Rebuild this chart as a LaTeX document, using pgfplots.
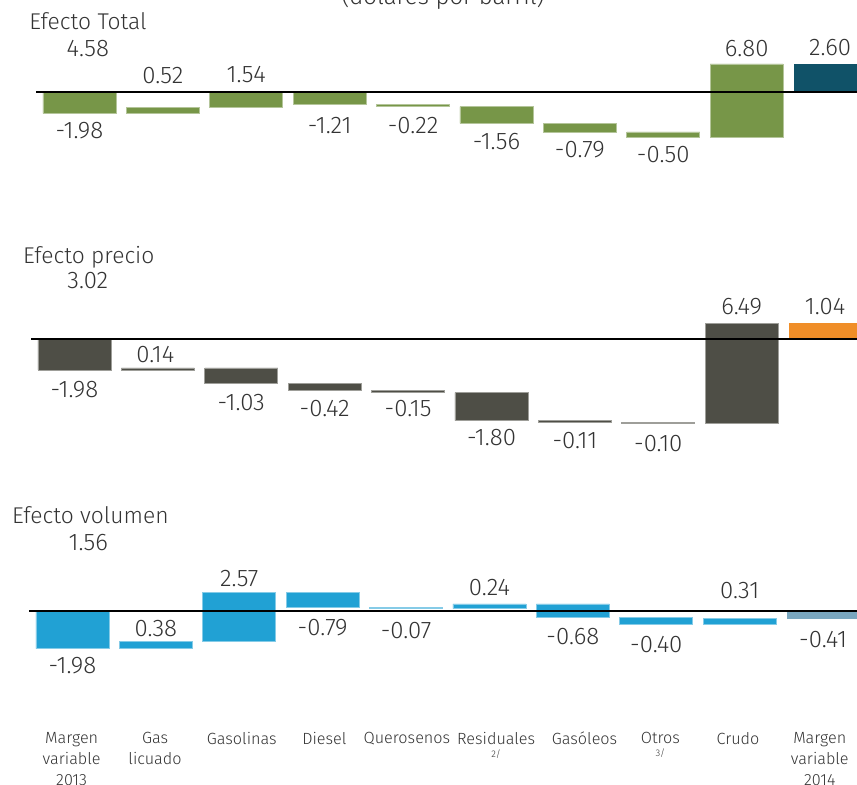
\documentclass[border=0pt]{standalone}
\usepackage{fontspec}
\setmainfont{Fira Sans Light}
\usepackage{pgfplots}
\pgfplotsset{compat=1.18}
\usepackage{pgfplotstable}

\definecolor{verde}{RGB}{119,150,72}
\definecolor{azuloscuro}{RGB}{16,82,104}
\definecolor{gris}{RGB}{78,78,70}
\definecolor{naranja}{RGB}{240,142,40}
\definecolor{azul}{RGB}{33,161,212}
\definecolor{acero}{RGB}{122,167,191}
\definecolor{txt}{RGB}{51,51,51}

\newcommand\vfont{\fontsize{12}{14}\selectfont}
\newcommand\tfont{\fontsize{11.4}{13}\selectfont}
\newcommand\cfont{\fontsize{8.1}{10.6}\selectfont}

% waterfall: base (invisible), change, final bar
\pgfplotstableread{
x base delta fin
0 0 -1.98 0
1 -1.98 0.52 0
2 -1.46 1.54 0
3 0.08 -1.21 0
4 -1.13 -0.22 0
5 -1.35 -1.56 0
6 -2.91 -0.79 0
7 -3.70 -0.50 0
8 -4.20 6.80 0
9 0 0 2.60
}\totalbars
\pgfplotstableread{
x y t
0.10 4.05 4.58
0 -3.61 -1.98
1 1.48 0.52
2 1.62 1.54
3 -3.06 -1.21
4 -3.06 -0.22
5 -4.60 -1.56
6 -5.37 -0.79
7 -5.83 -0.50
8 4.00 6.80
9 4.12 2.60
}\totallab

\pgfplotstableread{
x base delta fin
0 0 -1.98 0
1 -1.98 0.14 0
2 -1.84 -1.03 0
3 -2.87 -0.42 0
4 -3.29 -0.15 0
5 -3.44 -1.80 0
6 -5.24 -0.11 0
7 -5.35 -0.10 0
8 -5.45 6.49 0
9 0 0 1.04
}\preciobars
\pgfplotstableread{
x y t
0.16 3.77 3.02
0 -3.22 -1.98
0.97 -0.97 0.14
2 -4.08 -1.03
3 -4.45 -0.42
4 -4.45 -0.15
5 -6.34 -1.80
6 -6.52 -0.11
7 -6.71 -0.10
8 2.10 6.49
9 2.10 1.04
}\preciolab

\pgfplotstableread{
x base delta fin
0 0 -1.98 0
1 -1.98 0.38 0
2 -1.60 2.57 0
3 0.97 -0.79 0
4 0.18 -0.07 0
5 0.11 0.24 0
6 0.35 -0.68 0
7 -0.33 -0.40 0
8 -0.73 0.31 0
9 0 0 -0.41
}\volbars
\pgfplotstableread{
x y t
0.19 3.57 1.56
0 -2.87 -1.98
1 -0.94 0.38
2 1.69 2.57
3 -0.875 -0.79
4 -1.03 -0.07
5 1.21 0.24
6 -1.35 -0.68
7 -1.74 -0.40
8 1.06 0.31
9 -1.48 -0.41
}\vollab

\pgfplotsset{
  wf/.style={scale only axis, width=417.85pt, xmin=-0.52, xmax=9.5, clip=false, anchor=south west},
  wfbars/.style={wf, hide axis, ybar stacked, stack negative=on previous, bar width=36.5pt},
  wflab/.style={wf, axis line style={draw=none}, tick style={draw=none}, ytick=\empty, xtick=\empty},
  p1/.style={at={(18.05pt,-81.1pt)}, ymin=-6.5, ymax=4.5, height=59.4pt},
  p2/.style={at={(15.55pt,-227.78pt)}, ymin=-7.5, ymax=4.5, height=93pt},
  p3/.style={at={(14.55pt,-362.95pt)}, ymin=-6, ymax=4, height=96pt},
  vals/.style={only marks, mark=*, mark size=0pt, mark options={draw=none,fill=none},
    nodes near coords, point meta=explicit symbolic,
    every node near coord/.append style={anchor=center, font=\vfont, text=txt, inner sep=0pt}},
  cero/.style={black, line width=1pt},
}

\begin{document}
\begin{tikzpicture}
\useasboundingbox (0,0) rectangle (428.5pt,-392.5pt);

\node[anchor=base, font=\vfont, text=txt, inner sep=0pt] at (221.5pt,-2.4pt) {(dólares por barril)};
\node[anchor=base west, font=\tfont, text=txt, inner sep=0pt] at (14.5pt,-15pt) {Efecto Total};
\node[anchor=base west, font=\tfont, text=txt, inner sep=0pt] at (11.35pt,-131.65pt) {Efecto precio};
\node[anchor=base west, font=\tfont, text=txt, inner sep=0pt] at (5.85pt,-261.65pt) {Efecto volumen};

% Efecto Total
\begin{axis}[wfbars, p1]
\addplot[draw=none, fill=none] table[x=x, y=base] {\totalbars};
\addplot[fill=verde, draw=verde!55!white, line width=0.3pt] table[x=x, y=delta] {\totalbars};
\addplot[fill=azuloscuro, draw=none] table[x=x, y=fin] {\totalbars};
\end{axis}
\begin{axis}[wflab, p1]
\addplot[cero] coordinates {(-0.52,0) (9.5,0)};
\addplot[vals] table[x=x, y=y, meta=t] {\totallab};
\end{axis}

% Efecto precio
\begin{axis}[wfbars, p2]
\addplot[draw=none, fill=none] table[x=x, y=base] {\preciobars};
\addplot[fill=gris, draw=gris!55!white, line width=0.3pt] table[x=x, y=delta] {\preciobars};
\addplot[fill=naranja, draw=none] table[x=x, y=fin] {\preciobars};
\end{axis}
\begin{axis}[wflab, p2]
\addplot[cero] coordinates {(-0.52,0) (9.5,0)};
\addplot[vals] table[x=x, y=y, meta=t] {\preciolab};
\end{axis}

% Efecto volumen
\begin{axis}[wfbars, p3]
\addplot[draw=none, fill=none] table[x=x, y=base] {\volbars};
\addplot[fill=azul, draw=azul!55!white, line width=0.3pt] table[x=x, y=delta] {\volbars};
\addplot[fill=acero, draw=none] table[x=x, y=fin] {\volbars};
\end{axis}
\begin{axis}[wflab, p3,
  xtick={-0.01,0.99,2.03,3.02,4.01,5.08,6.14,7.05,7.98,8.96},
  xticklabels={{Margen\\variable\\2013}, {Gas\\licuado}, Gasolinas, Diesel, Querosenos,
    {Residuales\\[-4pt]{\fontsize{4.8}{5}\selectfont 2/}}, Gasóleos,
    {Otros\\[-4pt]{\fontsize{4.8}{5}\selectfont 3/}}, Crudo, {Margen\\variable\\2014}},
  xticklabel style={align=center, font=\cfont, text=txt, anchor=north, inner sep=3pt}]
\addplot[cero] coordinates {(-0.52,0) (9.5,0)};
\addplot[vals] table[x=x, y=y, meta=t] {\vollab};
\end{axis}
\end{tikzpicture}
\end{document}
